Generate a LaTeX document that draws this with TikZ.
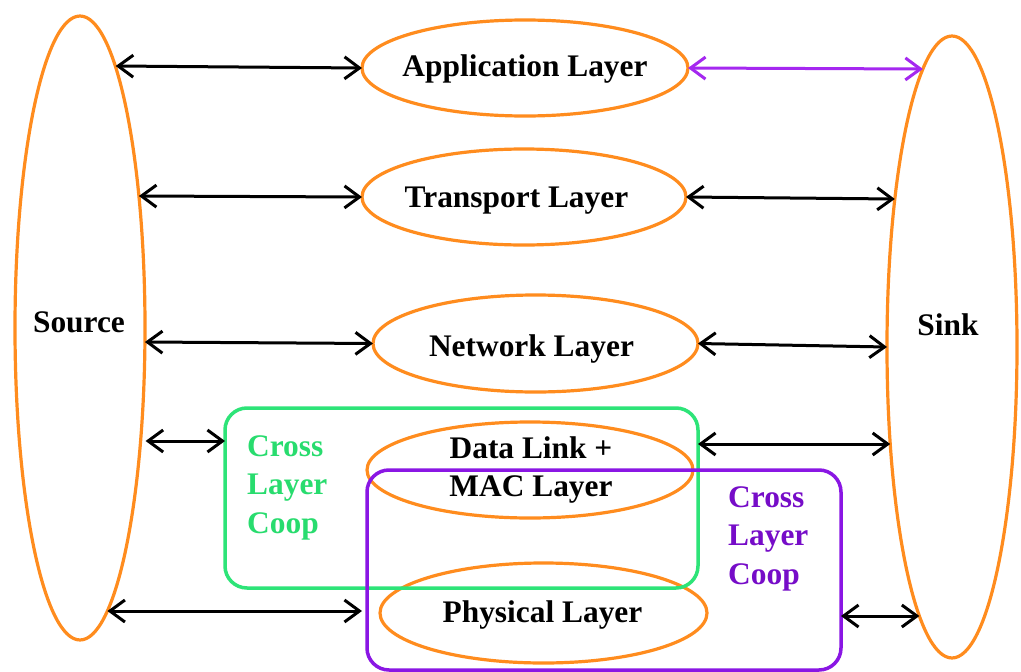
\documentclass[tikz,border=0pt]{standalone}
\usepackage{fontspec}
\setmainfont{Liberation Serif}
\usetikzlibrary{shapes.geometric,arrows.meta,calc}
\definecolor{lorange}{RGB}{255,140,30}
\definecolor{cgreen}{RGB}{45,228,120}
\definecolor{cgreentext}{RGB}{40,220,110}
\definecolor{cpurple}{RGB}{138,22,228}
\definecolor{cpurpletext}{RGB}{118,12,200}
\definecolor{parrow}{RGB}{165,40,240}
\begin{document}
\begin{tikzpicture}[x=1pt,y=-1pt,
  oval/.style={ellipse, draw=lorange, line width=3.2pt, inner sep=0pt, outer sep=0pt},
  lbl/.style={font=\fontsize{31.4}{38.3}\selectfont\bfseries, inner sep=0pt, align=center},
  coop/.style={font=\fontsize{31.4}{38.5}\selectfont\bfseries, inner sep=0pt, align=left, anchor=base west},
  box/.style={rectangle, rounded corners=22pt, line width=3.5pt, inner sep=0pt, outer sep=0pt},
  link/.style={line width=3pt, {Straight Barb[length=15pt,width=22pt]}-{Straight Barb[length=15pt,width=22pt]}},
]
\useasboundingbox (0,0) rectangle (1021,672);
\fill[white] (0,0) rectangle (1021,672);

% ellipses
\node[oval, minimum width=130pt, minimum height=624pt] (src) at (80,328) {};
\node[oval, minimum width=130pt, minimum height=622pt] (sink) at (952,347) {};
\node[oval, minimum width=326pt, minimum height=96pt] (app) at (525,68) {};
\node[oval, minimum width=324pt, minimum height=96pt] (trans) at (524,197) {};
\node[oval, minimum width=325pt, minimum height=97pt] (net) at (535.5,343.5) {};
\node[oval, minimum width=326pt, minimum height=96pt] (dl) at (530,470) {};
\node[oval, minimum width=327pt, minimum height=100pt] (phys) at (543.5,613) {};

% cooperation boxes
\node[box, draw=cgreen, minimum width=473pt, minimum height=180pt] (green) at (461.5,498) {};
\node[box, draw=cpurple, minimum width=474pt, minimum height=200pt] (purple) at (604,570) {};

% points on the Source and Sink borders
\coordinate (s1) at ($(src.center)+(35.7,-262)$);
\coordinate (s2) at ($(src.center)+(58.9,-132)$);
\coordinate (s3) at ($(src.center)+(64.9,14)$);
\coordinate (s4) at ($(src.center)+(60.6,113)$);
\coordinate (s5) at ($(src.center)+(27.4,283)$);
\coordinate (k1) at ($(sink.center)+(-29.1,-278)$);
\coordinate (k2) at ($(sink.center)+(-57.2,-148)$);
\coordinate (k4) at ($(sink.center)+(-61.8,97)$);
\coordinate (k5) at ($(sink.center)+(-32.6,269)$);

% connectors
\draw[link] (s1) -- (app.west);
\draw[link, parrow] (app.east) -- (k1);
\draw[link] (s2) -- (trans.west);
\draw[link] (trans.east) -- (k2);
\draw[link] (s3) -- (net.west);
\draw[link] (net.east) -- (sink.west);
\draw[link, shorten <=5pt] (s4) -- (s4 -| green.west);
\draw[link] (green.east |- k4) -- (k4);
\draw[link, shorten >=5pt] (s5) -- (s5 -| purple.west);
\draw[link] (purple.east |- k5) -- (k5);

% labels
\node[lbl] (tapp) at (525,69) {Application Layer};
\node[lbl] (ttrans) at (516.5,200.5) {Transport Layer};
\node[lbl] (tnet) at (531.5,349) {Network Layer};
\node[lbl] (tdl) at (531,470) {Data Link +\\MAC Layer};
\node[lbl] (tphys) at (542.5,615) {Physical Layer};
\node[lbl] (tsrc) at (79,322) {Source};
\node[lbl] (tsink) at (948,325) {Sink};
\node[coop, text=cgreentext] (tgreen) at (247,533) {Cross\\Layer\\Coop};
\node[coop, text=cpurpletext] (tpurple) at (728,584) {Cross\\Layer\\Coop};
\end{tikzpicture}
\end{document}
